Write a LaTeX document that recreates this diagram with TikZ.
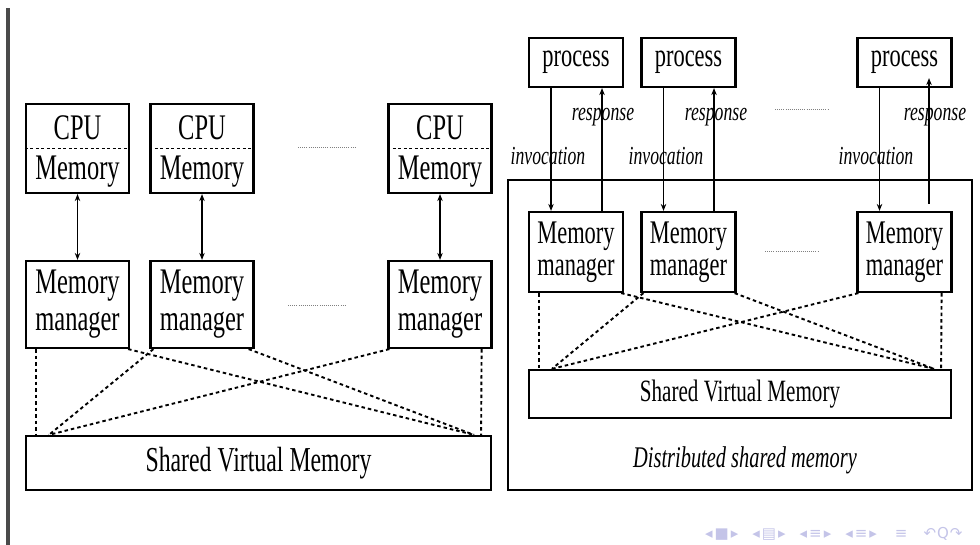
\documentclass[tikz,border=0pt]{standalone}
\usepackage{fontspec}
\setmainfont{Liberation Serif}[FakeStretch=0.68]
\newfontfamily\navfont{DejaVu Sans}
\usetikzlibrary{arrows.meta}
\definecolor{bargray}{HTML}{4A4A4A}
\definecolor{navblue}{HTML}{C4C4E8}
\tikzset{
  box/.style={draw, line width=2.2pt, inner sep=0pt, align=center},
  boxtext/.style={font=\fontsize{36}{37}\selectfont},
  rboxtext/.style={font=\fontsize{33}{32}\selectfont},
  lbl/.style={font=\fontsize{26}{26}\selectfont\itshape, inner sep=0pt},
  link/.style={line width=1.9pt, dash pattern=on 3.5pt off 3pt},
  dbl/.style={line width=1.9pt, {Stealth[length=7pt,width=5.5pt]}-{Stealth[length=7pt,width=5.5pt]}},
  arr/.style={line width=1.9pt, -{Stealth[length=7pt,width=5.5pt]}},
  ell/.style={line width=0.8pt, gray, dash pattern=on 0.8pt off 1.3pt}
}
\begin{document}
\begin{tikzpicture}[x=1pt, y=-1pt]
\useasboundingbox (0,0) rectangle (980,545);

% slide edge bar
\fill[bargray] (6,8) rectangle (10,545);

% ---------------- left: shared virtual memory over processors ----------------
\foreach \n/\x in {1/77.5, 2/202, 3/440} {
  \node[box, minimum width=103pt, minimum height=89pt] (cpu\n) at (\x,148.5) {};
  \draw[line width=1.9pt, dash pattern=on 3pt off 2.5pt] (cpu\n.west) -- (cpu\n.east);
  \node[boxtext, inner sep=0pt] (cpulbl\n) at (\x,128) {CPU};
  \node[boxtext, inner sep=0pt] (cpumem\n) at (\x,172) {Memory};
  \node[box, boxtext, minimum width=103pt, minimum height=87pt] (mm\n) at (\x,304.5) {Memory\\manager};
  \draw[dbl] (cpu\n.south) -- (mm\n.north);
}
\draw[ell] (298,147) -- (355,147);
\draw[ell] (288,305) -- (345,305);

\node[box, minimum width=465pt, minimum height=54pt,
      font=\fontsize{35}{35}\selectfont] (svm) at (258.5,463) {Shared Virtual Memory};

\draw[link] ([xshift=11pt]mm1.south west) -- ([xshift=11pt]svm.north west);
\draw[link] ([xshift=-2pt]mm1.south east) -- ([xshift=-18pt]svm.north east);
\draw[link] ([xshift=4pt]mm2.south west) -- ([xshift=24pt]svm.north west);
\draw[link] ([xshift=-6pt]mm2.south east) -- ([xshift=-18pt]svm.north east);
\draw[link] ([xshift=2pt]mm3.south west) -- ([xshift=24pt]svm.north west);
\draw[link] ([xshift=-11pt]mm3.south east) -- ([xshift=-11pt]svm.north east);

% ---------------- right: distributed shared memory ----------------
\node[box, minimum width=464pt, minimum height=310pt] (dsm) at (740,335) {};
\node[font=\fontsize{30}{30}\selectfont\itshape, inner sep=0pt] (dsmlbl) at (745,460) {Distributed shared memory};

\foreach \n/\x in {1/576, 2/688.5, 3/904.5} {
  \node[box, rboxtext, minimum width=94pt, minimum height=49pt] (proc\n) at (\x,62.5) {process};
  \node[box, rboxtext, minimum width=94pt, minimum height=80pt] (rmm\n) at (\x,252) {Memory\\manager};
  \draw[arr] ([xshift=-25pt]proc\n.south) -- ([xshift=-25pt]rmm\n.north);
}
\draw[arr] ([xshift=26pt]rmm1.north) -- ([xshift=26pt]proc1.south);
\draw[arr] ([xshift=25.5pt]rmm2.north) -- ([xshift=25.5pt]proc2.south);
\draw[arr, shorten <=7pt, shorten >=-10pt] ([xshift=24.5pt]rmm3.north) -- ([xshift=24.5pt]proc3.south);

\node[lbl] (resp1) at (603,117) {response};
\node[lbl] (resp2) at (716,117) {response};
\node[lbl] (resp3) at (935,117) {response};
\node[lbl] (inv1) at (548,156) {invocation};
\node[lbl] (inv2) at (666,156) {invocation};
\node[lbl] (inv3) at (876,156) {invocation};

\draw[ell] (775,109) -- (828,109);
\draw[ell] (765,251) -- (818,251);

\node[box, minimum width=422pt, minimum height=48pt,
      font=\fontsize{31}{31}\selectfont] (rsvm) at (740,394) {Shared Virtual Memory};

\draw[link] ([xshift=11pt]rmm1.south west) -- ([xshift=11pt]rsvm.north west);
\draw[link] ([xshift=-3pt]rmm1.south east) -- ([xshift=-18pt]rsvm.north east);
\draw[link] ([xshift=3pt]rmm2.south west) -- ([xshift=24pt]rsvm.north west);
\draw[link] ([xshift=-2pt]rmm2.south east) -- ([xshift=-18pt]rsvm.north east);
\draw[link] ([xshift=2pt]rmm3.south west) -- ([xshift=24pt]rsvm.north west);
\draw[link] ([xshift=-11pt]rmm3.south east) -- ([xshift=-11pt]rsvm.north east);

% navigation symbols along the bottom edge
\node[text=navblue, font=\navfont\fontsize{15}{15}\selectfont, anchor=west, inner sep=0pt] (nav) at (705,534)
  {◂\hspace{2pt}■\hspace{2pt}▸\hspace{14pt}◂\hspace{2pt}▤\hspace{2pt}▸\hspace{14pt}◂\hspace{2pt}≡\hspace{2pt}▸\hspace{14pt}◂\hspace{2pt}≡\hspace{2pt}▸\hspace{18pt}≡\hspace{16pt}↶\hspace{1pt}Q\hspace{1pt}↷};
\end{tikzpicture}
\end{document}
